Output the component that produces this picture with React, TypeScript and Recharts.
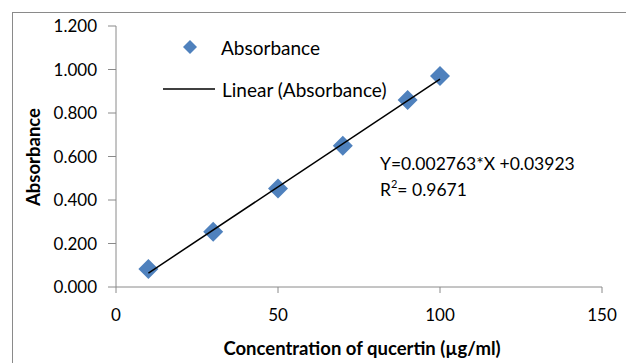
import React from 'react';
import { ScatterChart, Scatter, XAxis, YAxis, Customized } from 'recharts';

const concentrations = [10, 30, 50, 70, 90, 100];
const absorbance = [0.083, 0.254, 0.453, 0.65, 0.86, 0.97];
const trendX = [10, 100];
const trendY = [0.064, 0.956];
const xTicks = [0, 50, 100, 150];
const yTicks = [0, 0.2, 0.4, 0.6, 0.8, 1.0, 1.2];
const seriesNames = ['Absorbance', 'Linear (Absorbance)'];

const points = concentrations.map((x, i) => ({ x, y: absorbance[i] }));
const trend = trendX.map((x, i) => ({ x, y: trendY[i] }));

const FONT = 'Lato, "Open Sans", sans-serif';
const BLUE = '#4f81bd';
const AXIS = '#8a8a8a';

const Diamond = (props: any) => {
  const { cx, cy } = props;
  if (cx == null || cy == null) return <g />;
  const r = 10;
  return (
    <polygon
      points={`${cx},${cy - r} ${cx + r},${cy} ${cx},${cy + r} ${cx - r},${cy}`}
      fill={BLUE}
    />
  );
};

const NoShape = () => <g />;

const Annotations = () => (
  <g fontFamily={FONT} fill="#000">
    {/* legend */}
    <polygon points="190,40 197,47 190,54 183,47" fill={BLUE} />
    <text x={221} y={47} fontSize={19} dominantBaseline="central">{seriesNames[0]}</text>
    <line x1={163} y1={89} x2={215} y2={89} stroke="#000" strokeWidth={1.5} />
    <text x={222} y={89} fontSize={19} dominantBaseline="central">{seriesNames[1]}</text>
    {/* trendline equation */}
    <text x={380} y={163} fontSize={17.5} dominantBaseline="central">Y=0.002763*X +0.03923</text>
    <text x={380} y={189} fontSize={17.5} dominantBaseline="central">
      R<tspan fontSize={11} dy={-6}>2</tspan><tspan dy={6}>= 0.9671</tspan>
    </text>
    {/* axis titles */}
    <text x={362} y={348} fontSize={18.5} fontWeight="bold" textAnchor="middle" dominantBaseline="central">
      Concentration of qucertin (µg/ml)
    </text>
    <text
      x={33}
      y={157}
      fontSize={18.5}
      fontWeight="bold"
      textAnchor="middle"
      dominantBaseline="central"
      transform="rotate(-90 33 157)"
    >
      Absorbance
    </text>
  </g>
);

export default function App() {
  return (
    <div style={{ position: 'absolute', left: 0, top: 0, width: 626, height: 363, background: '#fff' }}>
      <div style={{ position: 'absolute', left: 12, top: 12, width: 614, height: 1, background: AXIS }} />
      <div style={{ position: 'absolute', left: 12, top: 12, width: 1, height: 351, background: AXIS }} />
      <ScatterChart width={626} height={363} margin={{ top: 26, right: 24, bottom: 46, left: 0 }}>
        <XAxis
          type="number"
          dataKey="x"
          domain={[0, 150]}
          ticks={xTicks}
          height={30}
          tickSize={6}
          tickMargin={16}
          stroke={AXIS}
          tick={{ fill: '#000', fontSize: 17, fontFamily: FONT }}
          allowDataOverflow
        />
        <YAxis
          type="number"
          dataKey="y"
          domain={[0, 1.2]}
          ticks={yTicks}
          width={116}
          tickSize={8}
          tickMargin={11}
          stroke={AXIS}
          tickFormatter={(v: number) => v.toFixed(3)}
          tick={{ fill: '#000', fontSize: 17, fontFamily: FONT }}
          allowDataOverflow
        />
        <Scatter name={seriesNames[0]} data={points} shape={<Diamond />} isAnimationActive={false} />
        <Scatter
          name={seriesNames[1]}
          data={trend}
          line={{ stroke: '#000', strokeWidth: 1.5 }}
          shape={<NoShape />}
          isAnimationActive={false}
        />
        <Customized component={<Annotations />} />
      </ScatterChart>
    </div>
  );
}
